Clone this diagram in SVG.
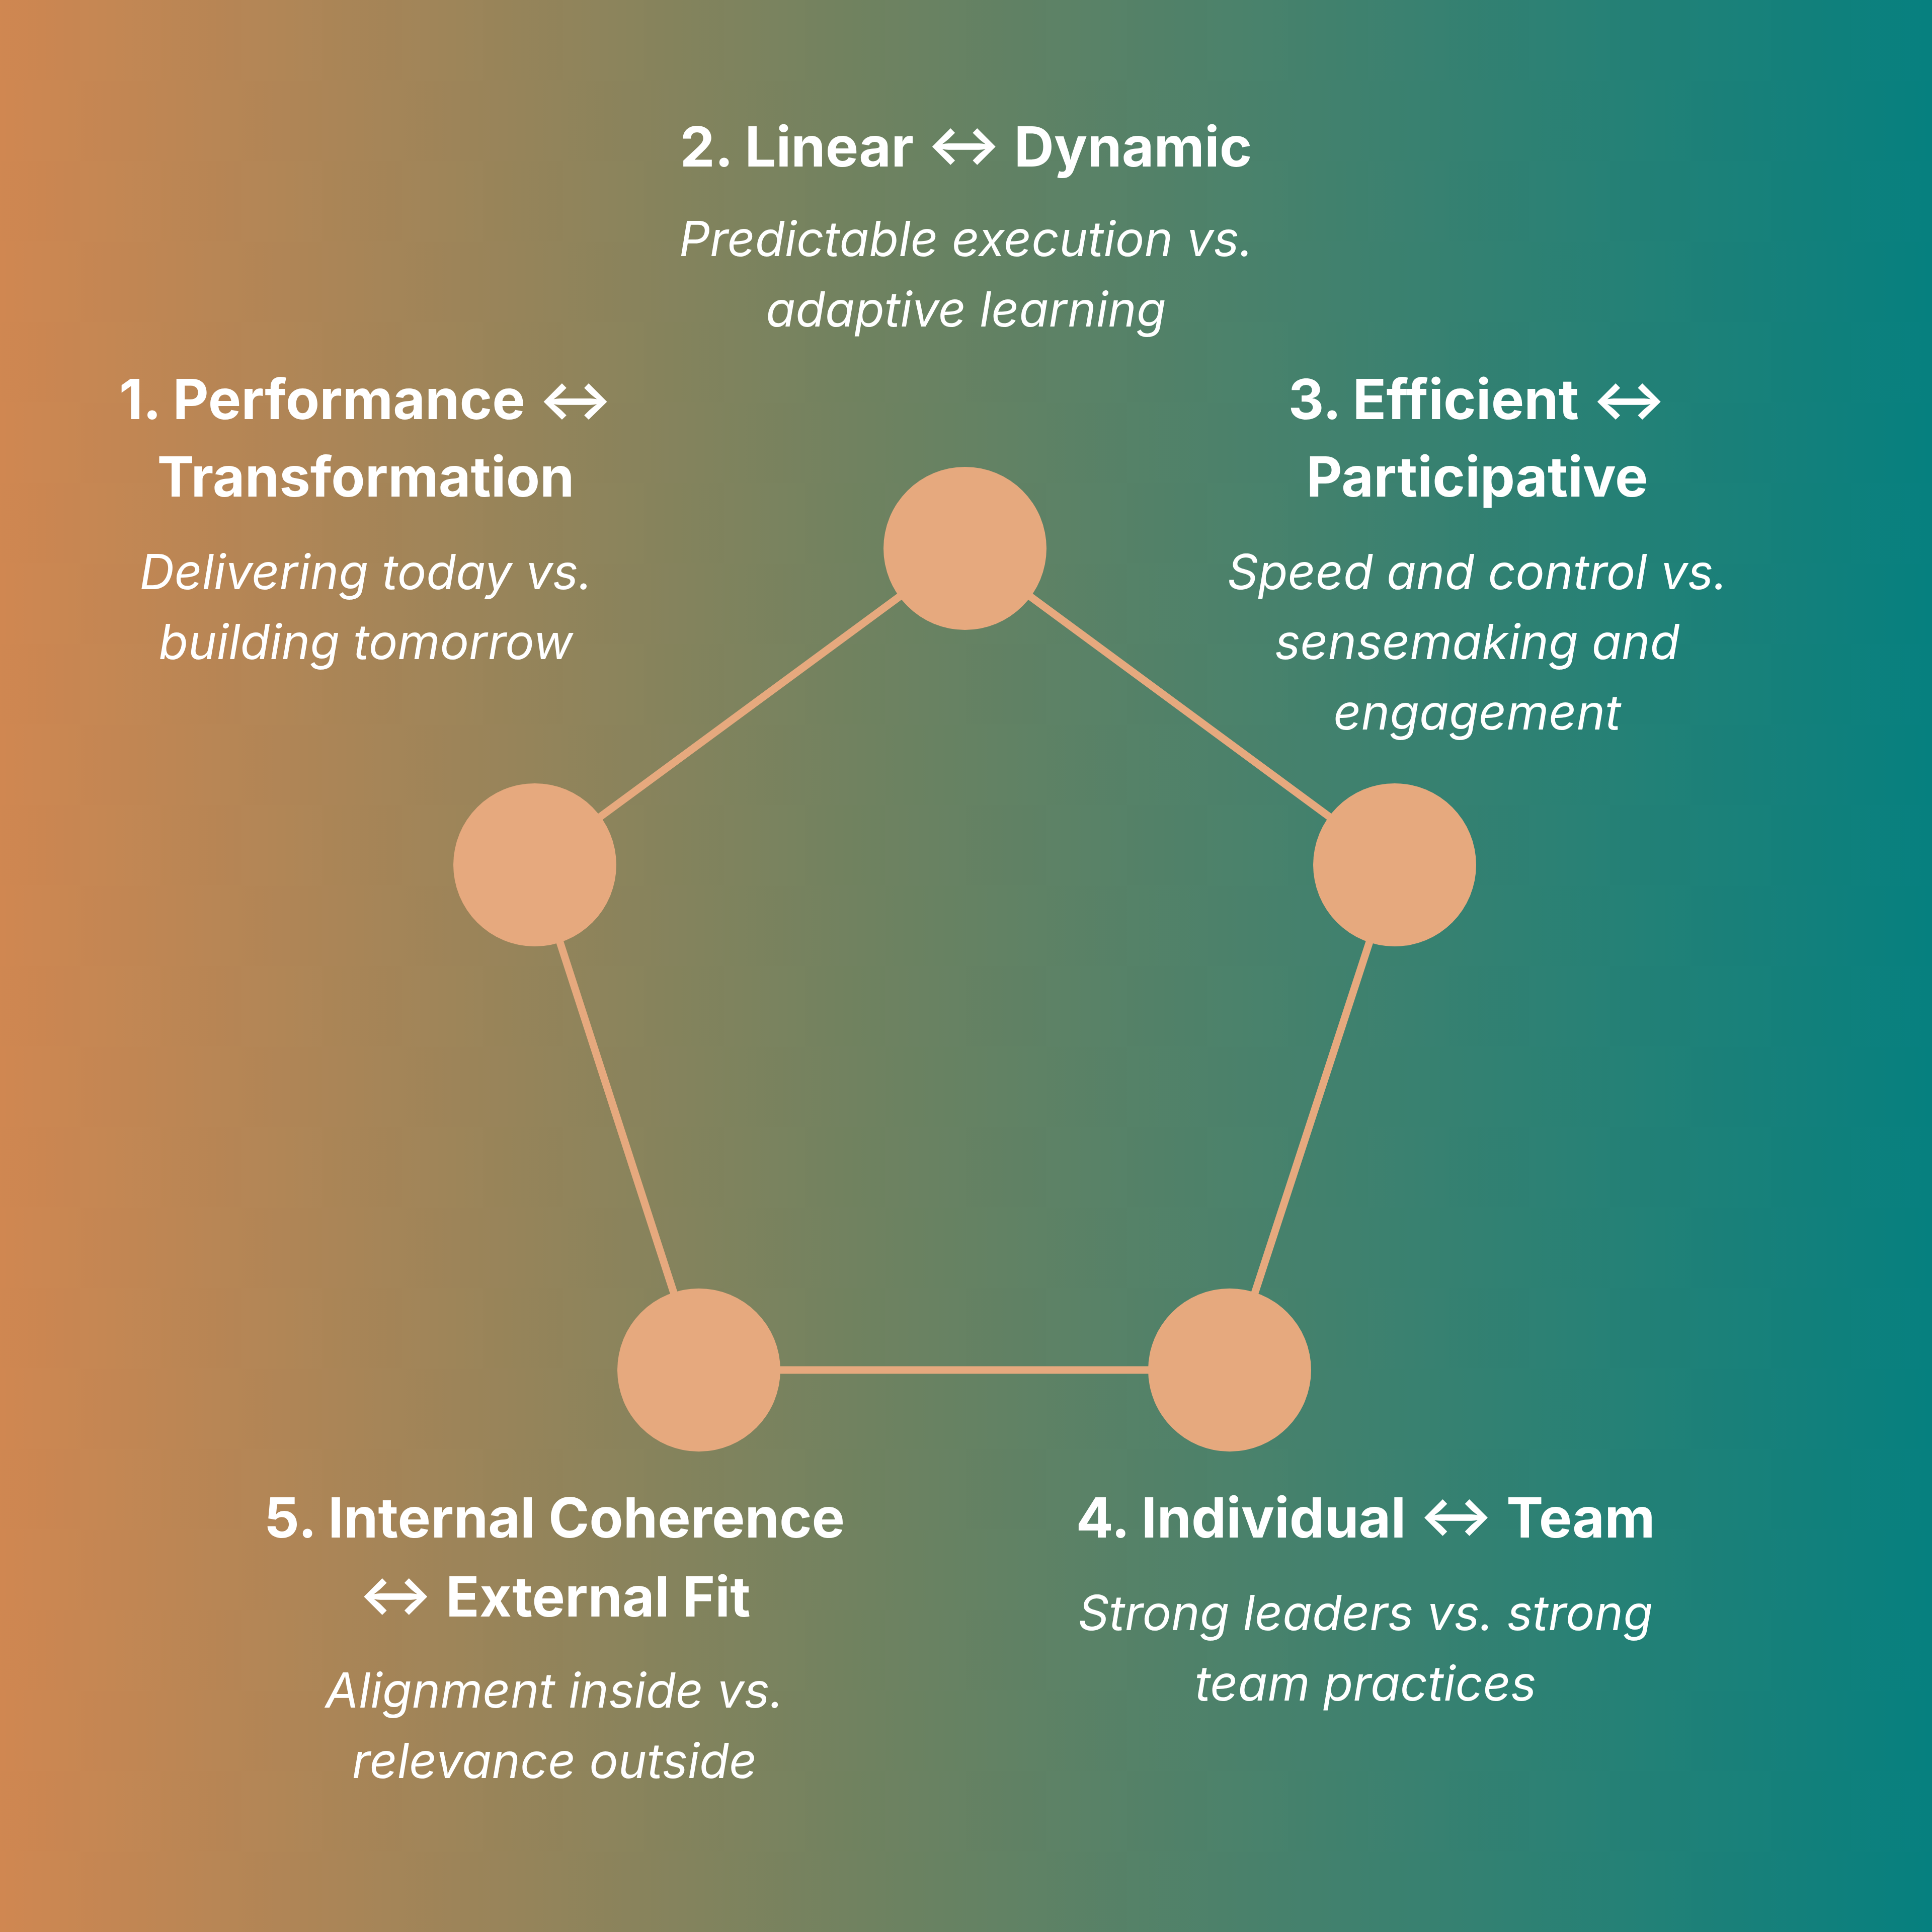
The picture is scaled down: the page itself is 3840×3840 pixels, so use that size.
<svg xmlns="http://www.w3.org/2000/svg" width="3840" height="3840" viewBox="0 0 3840 3840">
<defs>
<linearGradient id="bg" x1="0" y1="0" x2="1" y2="0">
<stop offset="0" stop-color="#D08751"/>
<stop offset="0.45" stop-color="#6F8260"/>
<stop offset="1" stop-color="#06807F"/>
</linearGradient>
<style>
.t{font-family:Inter,"Noto Sans","Liberation Sans",sans-serif;font-weight:700;font-size:110px;fill:#fff;text-anchor:middle}
.s{font-family:Inter,"Noto Sans","Liberation Sans",sans-serif;font-style:italic;font-size:96px;fill:#fff;text-anchor:middle}
.n{fill:#E6A97E}
.e{stroke:#E6A97E;stroke-width:15;fill:none}
</style>
</defs>
<rect width="3840" height="3840" fill="url(#bg)"/>
<g id="connectors">
<polygon class="e" points="1918,1090 2772,1719 2444,2723 1389,2723 1063,1719"/>
</g>
<g id="node2"><circle class="n" cx="1918" cy="1090" r="162"/>
<text class="t" x="1920" y="331">2. Linear ↔ Dynamic</text>
<text class="s" x="1920" y="509">Predictable execution vs.</text>
<text class="s" x="1920" y="649">adaptive learning</text></g>
<g id="node1"><circle class="n" cx="1063" cy="1719" r="162"/>
<text class="t" x="727" y="833">1. Performance ↔</text>
<text class="t" x="727" y="987">Transformation</text>
<text class="s" x="727" y="1171">Delivering today vs.</text>
<text class="s" x="727" y="1310">building tomorrow</text></g>
<g id="node3"><circle class="n" cx="2772" cy="1719" r="162"/>
<text class="t" x="2936" y="833">3. Efficient ↔</text>
<text class="t" x="2936" y="987">Participative</text>
<text class="s" x="2936" y="1171">Speed and control vs.</text>
<text class="s" x="2936" y="1310">sensemaking and</text>
<text class="s" x="2936" y="1450">engagement</text></g>
<g id="node4"><circle class="n" cx="2444" cy="2723" r="162"/>
<text class="t" x="2714" y="3056">4. Individual ↔ Team</text>
<text class="s" x="2714" y="3240">Strong leaders vs. strong</text>
<text class="s" x="2714" y="3380">team practices</text></g>
<g id="node5"><circle class="n" cx="1389" cy="2723" r="162"/>
<text class="t" x="1102" y="3056">5. Internal Coherence</text>
<text class="t" x="1102" y="3213">↔ External Fit</text>
<text class="s" x="1102" y="3394">Alignment inside vs.</text>
<text class="s" x="1102" y="3534">relevance outside</text></g>
</svg>
